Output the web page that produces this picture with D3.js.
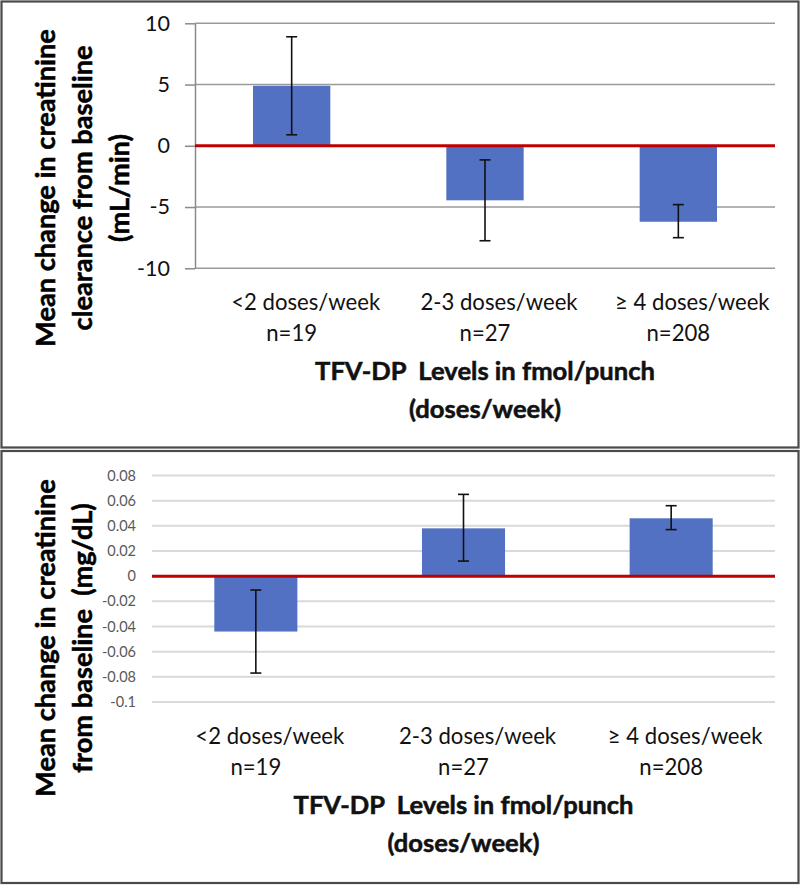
<!DOCTYPE html>
<html>
<head>
<meta charset="utf-8">
<script src="https://cdn.jsdelivr.net/npm/d3@7/dist/d3.min.js"></script>
<style>
  html, body { margin: 0; padding: 0; background: #fff; }
  svg { display: block; }
</style>
</head>
<body>
<script>
// ---------- DATA ----------
const categories = ["<2 doses/week", "2-3 doses/week", "\u2265 4 doses/week"];
const nLabels = ["n=19", "n=27", "n=208"];

// Panel A: mean change in creatinine clearance (mL/min)
const clearanceMean = [4.9, -4.45, -6.2];
const clearanceLow  = [0.9, -7.75, -7.5];
const clearanceHigh = [8.9, -1.15, -4.8];
const clearanceTicks = [-10, -5, 0, 5, 10];
const clearanceTickLabels = ["-10", "-5", "0", "5", "10"];

// Panel B: mean change in creatinine (mg/dL)
const creatMean = [-0.044, 0.038, 0.046];
const creatLow  = [-0.077, 0.012, 0.037];
const creatHigh = [-0.011, 0.065, 0.056];
const creatTicks = [-0.1, -0.08, -0.06, -0.04, -0.02, 0, 0.02, 0.04, 0.06, 0.08];
const creatTickLabels = ["-0.1", "-0.08", "-0.06", "-0.04", "-0.02", "0", "0.02", "0.04", "0.06", "0.08"];

const yTitleA = ["Mean change in creatinine", "clearance from baseline", "(mL/min)"];
const yTitleB = ["Mean change in creatinine", "from baseline  (mg/dL)"];
const xTitle = ["TFV-DP  Levels in fmol/punch", "(doses/week)"];

// ---------- RENDER ----------
const FONT = "Lato, 'Open Sans', 'Liberation Sans', sans-serif";
const BOLD = 700;
const svg = d3.select("body").append("svg").attr("width", 800).attr("height", 885);

function fitSize(text, weight, targetW) {
  const t = svg.append("text").attr("font-family", FONT).attr("font-weight", weight)
    .attr("font-size", 100).style("white-space", "pre").text(text);
  const w = t.node().getComputedTextLength();
  t.remove();
  return 100 * targetW / w;
}

const catSize = fitSize(categories[0], 400, 149);
const xTitleSize = fitSize(xTitle[0], BOLD, 340);
const yTitleSize = fitSize(yTitleA[0], BOLD, 318);

function boldText(sel, size, fill) {
  return sel.attr("font-family", FONT).attr("font-weight", BOLD)
    .attr("font-size", size).attr("fill", fill)
    .attr("stroke", fill).attr("stroke-width", 0.55).attr("paint-order", "stroke")
    .style("white-space", "pre");
}

function panel(o) {
  const g = svg.append("g");
  // frame
  g.append("rect").attr("x", o.frame[0]).attr("y", o.frame[1])
    .attr("width", o.frame[2]).attr("height", o.frame[3])
    .attr("fill", "#fff").attr("stroke", "#4a4a4a").attr("stroke-width", 2.2);

  const x = d3.scaleBand().domain(categories).range([o.x0, o.x1])
    .paddingInner(0.6).paddingOuter(0.3);
  const y = d3.scaleLinear().domain(o.domain).range([o.yBottom, o.yTop]);

  // gridlines
  g.append("g").selectAll("line").data(o.ticks).join("line")
    .attr("x1", o.x0).attr("x2", o.x1)
    .attr("y1", d => y(d)).attr("y2", d => y(d))
    .attr("stroke", o.gridColor).attr("stroke-width", o.gridWidth);

  // y axis
  const axis = d3.axisLeft(y).tickValues(o.ticks)
    .tickFormat((d, i) => o.tickLabels[i])
    .tickSizeInner(o.tickSize).tickSizeOuter(0).tickPadding(o.tickPad);
  const ag = g.append("g").attr("transform", `translate(${o.x0},0)`).call(axis);
  ag.selectAll("text").attr("font-family", FONT).attr("font-size", o.tickFont)
    .attr("fill", o.tickColor);
  ag.selectAll(".tick line").attr("stroke", o.axisColor).attr("stroke-width", 1.5);
  if (o.showDomain) {
    ag.select(".domain").attr("stroke", o.axisColor).attr("stroke-width", 1.5);
  } else {
    ag.select(".domain").remove();
    ag.selectAll(".tick line").remove();
  }

  // bars
  g.append("g").selectAll("rect").data(o.mean).join("rect")
    .attr("x", (d, i) => x(categories[i]))
    .attr("width", x.bandwidth())
    .attr("y", d => y(Math.max(0, d)))
    .attr("height", d => Math.abs(y(d) - y(0)))
    .attr("fill", "#5271c2");

  // zero line
  g.append("line").attr("x1", o.x0).attr("x2", o.x1)
    .attr("y1", y(0)).attr("y2", y(0))
    .attr("stroke", "#c00000").attr("stroke-width", 3);

  // error bars
  const eb = g.append("g").attr("stroke", "#111").attr("stroke-width", 1.6);
  const cx = i => x(categories[i]) + x.bandwidth() / 2;
  o.mean.forEach((m, i) => {
    eb.append("line").attr("x1", cx(i)).attr("x2", cx(i))
      .attr("y1", y(o.low[i])).attr("y2", y(o.high[i]));
    [o.low[i], o.high[i]].forEach(v => {
      eb.append("line").attr("x1", cx(i) - 5.5).attr("x2", cx(i) + 5.5)
        .attr("y1", y(v)).attr("y2", y(v));
    });
  });

  // category labels
  const base = o.yBottom;
  g.append("g").selectAll("text").data(categories).join("text")
    .attr("x", (d, i) => cx(i) + 14).attr("y", base + 33)
    .attr("dominant-baseline", "central").attr("text-anchor", "middle")
    .attr("font-family", FONT).attr("font-size", catSize).attr("fill", "#111")
    .text(d => d);
  g.append("g").selectAll("text").data(nLabels).join("text")
    .attr("x", (d, i) => cx(i)).attr("y", base + 64)
    .attr("dominant-baseline", "central").attr("text-anchor", "middle")
    .attr("font-family", FONT).attr("font-size", catSize).attr("fill", "#111")
    .text(d => d);

  // x title
  const xc = (o.x0 + o.x1) / 2;
  xTitle.forEach((t, i) => {
    boldText(g.append("text").attr("x", xc).attr("y", base + 102 + i * 38)
      .attr("dominant-baseline", "central").attr("text-anchor", "middle"),
      xTitleSize, "#111").text(t);
  });

  // y title
  o.yTitle.forEach((t, i) => {
    const tx = o.yTitleX[i];
    boldText(g.append("text")
      .attr("transform", `translate(${tx},${o.yTitleCY}) rotate(-90)`)
      .attr("dominant-baseline", "central").attr("text-anchor", "middle"),
      yTitleSize, "#000").text(t);
  });
}

panel({
  frame: [1.5, 1.5, 797, 446],
  x0: 195, x1: 775, yTop: 23.3, yBottom: 268.3,
  domain: [-10, 10], ticks: clearanceTicks, tickLabels: clearanceTickLabels,
  mean: clearanceMean, low: clearanceLow, high: clearanceHigh,
  gridColor: "#9a9a9a", gridWidth: 1.6,
  showDomain: true, axisColor: "#8a8a8a", tickSize: 10, tickPad: 15,
  tickFont: 21.5, tickColor: "#111",
  yTitle: yTitleA, yTitleX: [44, 81, 118], yTitleCY: 188
});

panel({
  frame: [1.5, 451, 797, 432],
  x0: 152, x1: 775, yTop: 475.5, yBottom: 702,
  domain: [-0.1, 0.08], ticks: creatTicks, tickLabels: creatTickLabels,
  mean: creatMean, low: creatLow, high: creatHigh,
  gridColor: "#d9d9d9", gridWidth: 2,
  showDomain: false, axisColor: "#d9d9d9", tickSize: 0, tickPad: 16,
  tickFont: 14.5, tickColor: "#595959",
  yTitle: yTitleB, yTitleX: [44, 81], yTitleCY: 638
});
</script>
</body>
</html>
